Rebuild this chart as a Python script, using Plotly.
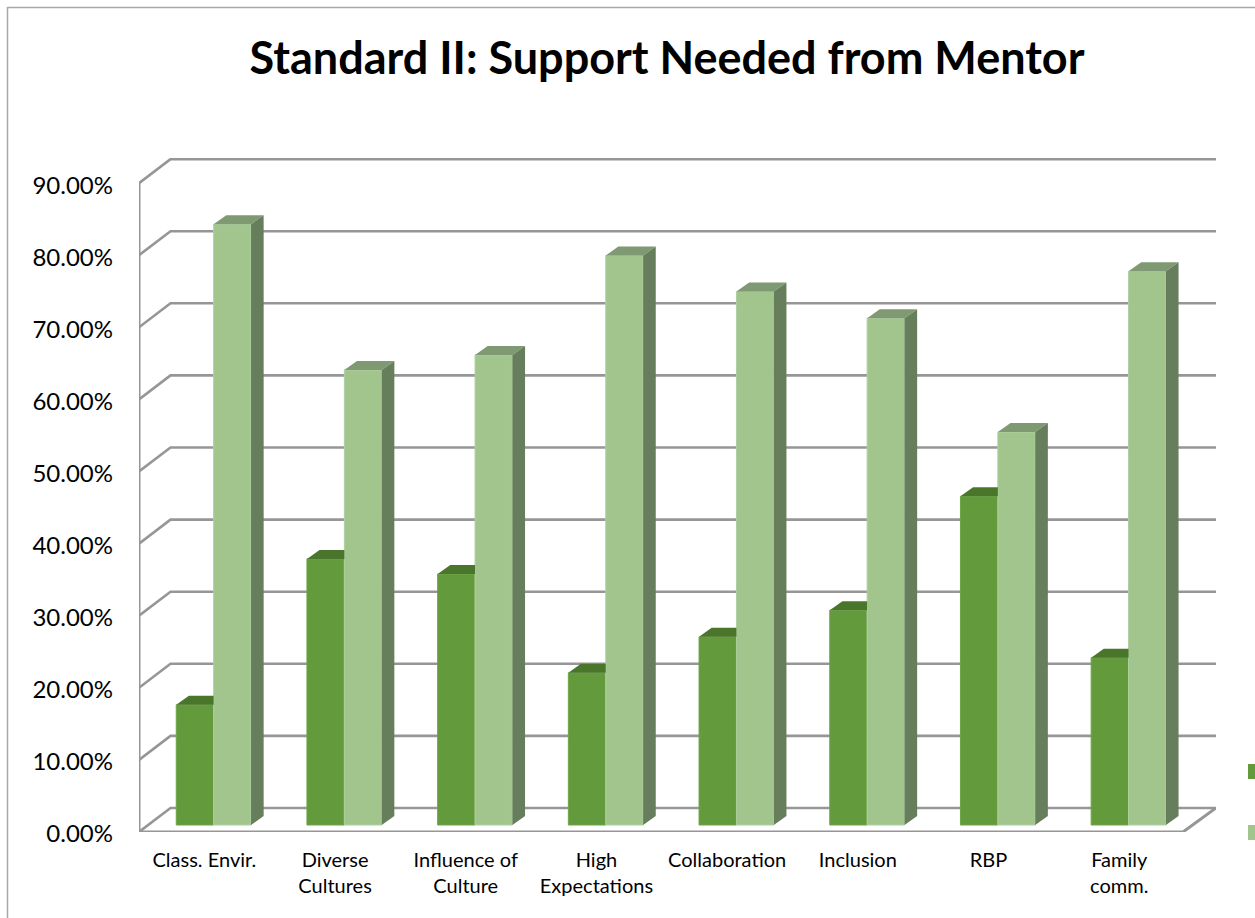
import plotly.graph_objects as go

categories = ["Class. Envir.", "Diverse<br>Cultures", "Influence of<br>Culture", "High<br>Expectations",
              "Collaboration", "Inclusion", "RBP", "Family<br>comm."]
dark_values = [16.67, 36.9, 34.8, 21.1, 26.1, 29.8, 45.6, 23.2]
light_values = [83.33, 63.1, 65.2, 79.0, 74.0, 70.3, 54.5, 76.8]
y_ticks = [0, 10, 20, 30, 40, 50, 60, 70, 80, 90]
y_tick_text = ["%.2f%%" % t for t in y_ticks]

DARK, DARK_TOP = "#629a3c", "#4a762b"
LIGHT, LIGHT_TOP, LIGHT_SIDE = "#a2c58e", "#7f9a72", "#667e5c"
GRID = "#969696"

W, H = 1255, 918
L, R, T, B = 139, 1216, 158, 832
PX_X = 130.7            # pixels per category
PX_Y = 7.21             # pixels per percentage point
x_lo = -0.5
x_hi = x_lo + (R - L) / PX_X
y_hi = (B - T) / PX_Y

wall_dx, wall_dy = 31.5 / PX_X, 24.0 / PX_Y      # floor depth
bar_base = 7.0 / PX_Y
bar_off = 9.3 / PX_X
bar_w = 37.4 / PX_X
bar_dx, bar_dy = 12.6 / PX_X, 9.0 / PX_Y

n = len(categories)
idx = list(range(n))
fig = go.Figure()

line = dict(color=GRID, width=2.6)
shapes = []
front_left, front_right = x_lo, x_lo + 1044 / PX_X
for t in y_ticks:
    shapes.append(dict(type="path", layer="below", xref="x", yref="y", line=line,
                       path=f"M{front_left},{t} L{front_left + wall_dx},{t + wall_dy} L{x_hi},{t + wall_dy}"))
shapes.append(dict(type="path", layer="below", xref="x", yref="y", line=dict(color=GRID, width=3),
                   path=f"M{front_left},{y_ticks[-1]} L{front_left},0 L{front_right},0 L{x_hi},{wall_dy}"))


def px(x):
    return (x - L) / (R - L)


def py(y):
    return (B - y) / (B - T)


border = "#a8a8a8"
shapes.append(dict(type="line", xref="paper", yref="paper", x0=px(7.5), x1=px(7.5), y0=py(7), y1=py(918),
                   line=dict(color=border, width=1.5)))
shapes.append(dict(type="line", xref="paper", yref="paper", x0=px(7.5), x1=px(1255), y0=py(7.5), y1=py(7.5),
                   line=dict(color=border, width=1.5)))
for colour, y0, y1 in ((DARK, 764, 779), (LIGHT, 825, 840)):
    shapes.append(dict(type="rect", xref="paper", yref="paper", x0=px(1248), x1=px(1255), y0=py(y0), y1=py(y1),
                       line=dict(width=0), fillcolor=colour))


def poly(xs, ys, colour):
    fig.add_trace(go.Scatter(x=xs + [None], y=ys + [None], mode="lines", fill="toself", fillcolor=colour,
                             line=dict(width=0), hoverinfo="skip", showlegend=False))


fig.add_trace(go.Bar(x=idx, y=dark_values, base=bar_base, width=bar_w, offset=bar_off - bar_w, name="Series 1",
                     marker=dict(color=DARK, line=dict(color="#6ea548", width=1)), showlegend=False))
fig.add_trace(go.Bar(x=idx, y=light_values, base=bar_base, width=bar_w, offset=bar_off, name="Series 2",
                     marker=dict(color=LIGHT, line=dict(color="#aed0a0", width=1)), showlegend=False))

for i in idx:
    x0, xm, x1 = i + bar_off - bar_w, i + bar_off, i + bar_off + bar_w
    d, l = dark_values[i] + bar_base, light_values[i] + bar_base
    poly([x0, xm, xm, x0 + bar_dx, x0], [d, d, d + bar_dy, d + bar_dy, d], DARK_TOP)
    poly([xm, x1, x1 + bar_dx, xm + bar_dx, xm], [l, l, l + bar_dy, l + bar_dy, l], LIGHT_TOP)
    poly([x1, x1 + bar_dx, x1 + bar_dx, x1, x1],
         [bar_base, bar_base + bar_dy, l + bar_dy, l, bar_base], LIGHT_SIDE)

fig.update_layout(
    width=W, height=H, barmode="overlay", showlegend=False,
    paper_bgcolor="white", plot_bgcolor="white",
    margin=dict(l=L, r=W - R, t=T, b=H - B, pad=0),
    font=dict(family="Lato", color="black"),
    title=dict(text="<b>Standard II: Support Needed from Mentor</b>", x=667 / W, xanchor="center",
               y=1 - 58 / H, yanchor="middle", font=dict(family="Lato", size=45, color="black")),
    shapes=shapes,
    xaxis=dict(range=[x_lo, x_hi], tickmode="array", tickvals=idx, ticktext=categories, showgrid=False,
               zeroline=False, showline=False, ticks="", ticklabelstandoff=14, tickfont=dict(size=20), tickangle=0),
    yaxis=dict(range=[0, y_hi], tickmode="array", tickvals=y_ticks, ticktext=y_tick_text, showgrid=False,
               zeroline=False, showline=False, ticks="", ticklabelstandoff=25, ticklabelshift=2, tickfont=dict(size=24)),
)
fig.write_html("out.html", config=dict(displayModeBar=False),
               post_script="document.body.style.margin='0';document.body.style.overflow='hidden';")
